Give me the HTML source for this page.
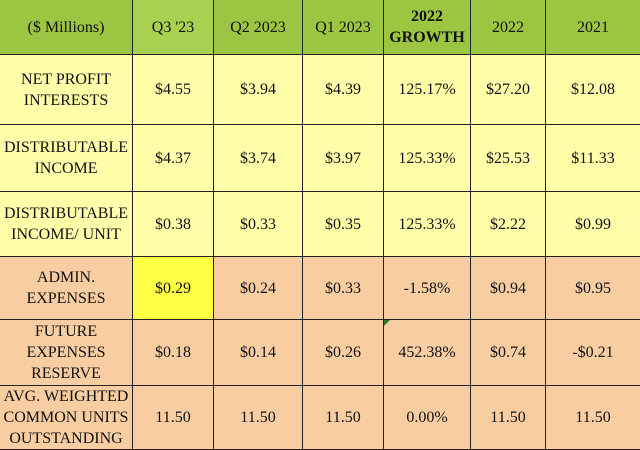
<!DOCTYPE html>
<html><head><style>
body{margin:0;width:640px;height:449px;overflow:hidden;background:#fff}
table{border-collapse:collapse;table-layout:fixed;width:641px;position:absolute;left:-1px;top:-1px}
td{border:1.5px solid #222;text-align:center;vertical-align:middle;font-family:"Liberation Serif",serif;font-size:16px;color:#111;padding:0;line-height:21px}
.h td{background:#9cc542;height:54px}
.h td.q{background:#a7d14f}
.y td{background:#ffffaa}
.o td{background:#f8cda2}
.o td.hl{background:#ffff44}
b{font-weight:bold}
.tri{position:relative}
.tri:before{content:"";position:absolute;left:0;top:0;border-top:6px solid #2a7a2a;border-right:6px solid transparent}
</style></head><body>
<table>
<colgroup><col style="width:133px"><col style="width:81px"><col style="width:89px"><col style="width:81px"><col style="width:87px"><col style="width:75px"><col style="width:95px"></colgroup>
<tr class="h"><td>($ Millions)</td><td class="q">Q3 '23</td><td>Q2 2023</td><td>Q1 2023</td><td><b>2022<br>GROWTH</b></td><td>2022</td><td>2021</td></tr>
<tr class="y" style="height:70px"><td>NET PROFIT<br>INTERESTS</td><td>$4.55</td><td>$3.94</td><td>$4.39</td><td>125.17%</td><td>$27.20</td><td>$12.08</td></tr>
<tr class="y" style="height:67px"><td>DISTRIBUTABLE<br>INCOME</td><td>$4.37</td><td>$3.74</td><td>$3.97</td><td>125.33%</td><td>$25.53</td><td>$11.33</td></tr>
<tr class="y" style="height:65px"><td>DISTRIBUTABLE<br>INCOME/ UNIT</td><td>$0.38</td><td>$0.33</td><td>$0.35</td><td>125.33%</td><td>$2.22</td><td>$0.99</td></tr>
<tr class="o" style="height:63px"><td>ADMIN.<br>EXPENSES</td><td class="hl">$0.29</td><td>$0.24</td><td>$0.33</td><td>-1.58%</td><td>$0.94</td><td>$0.95</td></tr>
<tr class="o" style="height:66px"><td>FUTURE<br>EXPENSES<br>RESERVE</td><td>$0.18</td><td>$0.14</td><td>$0.26</td><td class="tri">452.38%</td><td>$0.74</td><td>-$0.21</td></tr>
<tr class="o" style="height:64px"><td>AVG. WEIGHTED<br>COMMON UNITS<br>OUTSTANDING</td><td>11.50</td><td>11.50</td><td>11.50</td><td>0.00%</td><td>11.50</td><td>11.50</td></tr>
</table>
</body></html>
